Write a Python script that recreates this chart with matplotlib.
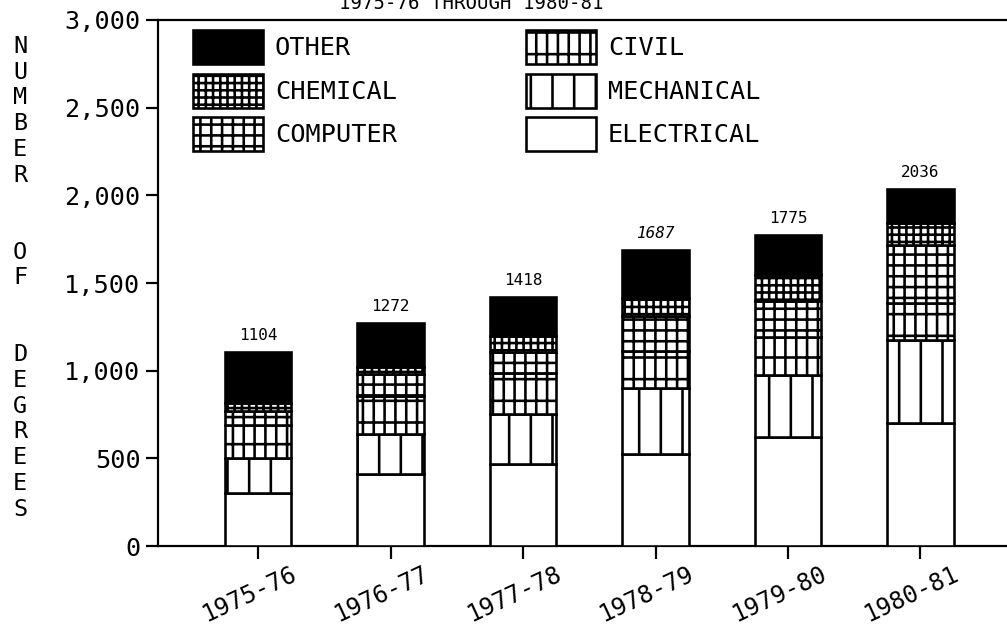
import matplotlib
matplotlib.use('Agg')
import matplotlib.pyplot as plt
import matplotlib.ticker as mticker
import matplotlib.transforms as mtransforms
import numpy as np

MONO = 'DejaVu Sans Mono'

years = ['1975-76', '1976-77', '1977-78', '1978-79', '1979-80', '1980-81']
electrical = [300, 410, 470, 525, 620, 700]
mechanical = [200, 230, 285, 375, 355, 475]
civil = [190, 215, 230, 210, 215, 210]
computer = [80, 125, 120, 200, 210, 330]
chemical = [45, 40, 95, 105, 145, 130]
other = [289, 252, 218, 272, 230, 191]
totals = ['1104', '1272', '1418', '1687', '1775', '2036']
total_values = [1104, 1272, 1418, 1687, 1775, 2036]

# dpi picked so the hatch spacing roughly matches the plotter patterns
DPI = 130
PX = 72 / DPI  # points per pixel

plt.rcParams.update({
    'font.family': MONO,
    'hatch.linewidth': 2.6 * PX,
    'hatch.color': 'black',
})

fig = plt.figure(figsize=(1007 / DPI, 642 / DPI), dpi=DPI)
ax = fig.add_axes([158 / 1007, 1 - 546 / 642, 1 - 158 / 1007, (546 - 20) / 642])

x = np.arange(len(years))
segments = [
    ('ELECTRICAL', electrical, 'white', ''),
    ('MECHANICAL', mechanical, 'white', '|'),
    ('CIVIL', civil, 'white', '+|'),
    ('COMPUTER', computer, 'white', '++'),
    ('CHEMICAL', chemical, 'white', '+++'),
    ('OTHER', other, 'black', ''),
]
handles = {}
bottom = np.zeros(len(years))
for name, vals, face, hatch in segments:
    bars = ax.bar(x, vals, 0.5, bottom=bottom, color=face, edgecolor='black',
                  linewidth=2.6 * PX, hatch=hatch, label=name, zorder=3)
    handles[name] = bars
    bottom = bottom + np.array(vals)

for xi, tv, lab in zip(x, total_values, totals):
    style = 'italic' if lab == '1687' else 'normal'
    ax.annotate(lab, (xi, tv), xytext=(0, 9 * PX), textcoords='offset points',
                ha='center', va='bottom', fontsize=16 * PX, style=style)

order = ['OTHER', 'CHEMICAL', 'COMPUTER', 'CIVIL', 'MECHANICAL', 'ELECTRICAL']
ax.legend([handles[k] for k in order], order, ncol=2, loc='upper left',
          bbox_to_anchor=(193 / 1007, 1 - 30 / 642), bbox_transform=fig.transFigure,
          frameon=False, borderpad=0, borderaxespad=0,
          handlelength=2.77, handleheight=1.7, handletextpad=0.47,
          labelspacing=0.37, columnspacing=5.1, prop=dict(family=MONO, size=25.3 * PX))

ax.set_xlim(-0.755, 5.653)
ax.set_ylim(0, 3000)
ax.set_yticks([0, 500, 1000, 1500, 2000, 2500, 3000])
ax.yaxis.set_major_formatter(mticker.StrMethodFormatter('{x:,.0f}'))
ax.set_xticks(x)
ax.set_xticklabels(years, rotation=25, ha='right', va='top', rotation_mode='anchor')
ax.tick_params(axis='both', direction='out', length=12.5 * PX, width=2.2 * PX,
               labelsize=25.3 * PX, pad=5 * PX)
ax.tick_params(axis='x', pad=3 * PX, labelsize=24 * PX)
offset = mtransforms.ScaledTranslation(32 / DPI, 0, fig.dpi_scale_trans)
for lbl in ax.get_xticklabels():
    lbl.set_transform(lbl.get_transform() + offset)

ax.spines['right'].set_visible(False)
for s in ['left', 'bottom', 'top']:
    ax.spines[s].set_linewidth(2.2 * PX)

fig.text(20 / 1007, 1 - 35 / 642, '\n'.join('NUMBER  OF  DEGREES'),
         ha='center', va='top', fontsize=23.5 * PX, linespacing=1.15)

fig.text(471 / 1007, 1 - 9 / 642, '1975-76 THROUGH 1980-81',
         ha='center', va='baseline', fontsize=19 * PX)

fig.savefig('out.png', dpi=DPI, facecolor='white')
